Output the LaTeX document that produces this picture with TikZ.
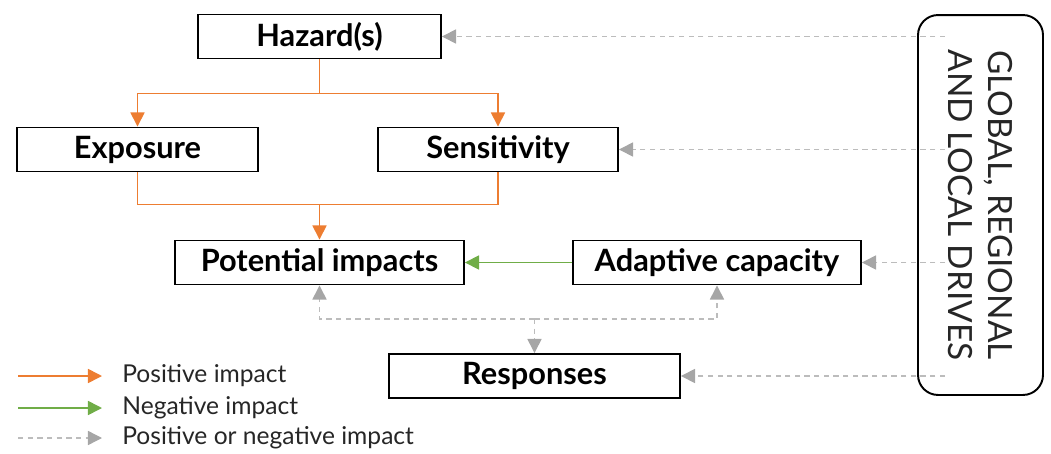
\documentclass[tikz,border=0pt]{standalone}
\usepackage{fontspec}
\setmainfont{Lato}
\usepackage{tikz}
\usetikzlibrary{arrows.meta,positioning,calc}

\definecolor{posorange}{RGB}{237,125,49}
\definecolor{neggreen}{RGB}{112,173,71}
\definecolor{mixgray}{RGB}{166,166,166}

\begin{document}
\begin{tikzpicture}[x=0.02cm,y=-0.02cm,
		box/.style={draw, line width=1.1pt, minimum height=0.88cm, inner sep=0pt,
			font=\fontsize{17.5}{20}\selectfont\bfseries},
		legend/.style={anchor=west, inner sep=0pt, text=black!85, font=\fontsize{14}{16}\selectfont},
		posline/.style={draw=posorange, line width=0.9pt},
		posarrow/.style={posline, -{Triangle[length=8pt,width=8pt]}},
		negarrow/.style={draw=neggreen, line width=0.9pt, -{Triangle[length=8pt,width=8pt]}},
		mixarrow/.style={draw=mixgray!75, line width=0.8pt, dash pattern=on 3pt off 2.5pt,
			-{Triangle[length=8pt,width=8pt,fill=mixgray,color=mixgray]}}]
	\useasboundingbox (0,0) rectangle (1051,453);

	\node[box, minimum width=4.86cm] (haz) at (319.5,36.5) {Hazard(s)};
	\node[box, minimum width=4.82cm] (expo) at (137.5,149.5) {Exposure};
	\node[box, minimum width=4.8cm] (sens) at (498,149.5) {Sensitivity};
	\node[box, minimum width=5.78cm] (pot) at (319.5,262.5) {Potential impacts};
	\node[box, minimum width=5.76cm] (adapt) at (717,262.5) {Adaptive capacity};
	\node[box, minimum width=5.82cm] (resp) at (534.5,376) {Responses};
	\node[draw, line width=1.1pt, rounded corners=0.4cm, rotate=-90,
		minimum width=7.6cm, minimum height=2.5cm, align=center, text=black!85,
		font=\fontsize{19}{23}\selectfont] (drives) at (980.5,205)
		{GLOBAL, REGIONAL\\AND LOCAL DRIVES};

	% positive impacts
	\draw[posarrow] (haz.south) -- ++(0,34) -| (expo.north);
	\draw[posarrow] (haz.south) -- ++(0,34) -| (sens.north);
	\coordinate (join) at ($(pot.north)+(0,-35)$);
	\draw[posline] (expo.south) |- (join);
	\draw[posline] (sens.south) |- (join);
	\draw[posarrow] (join) -- (pot.north);

	% negative impact
	\draw[negarrow] (adapt.west) -- (pot.east);

	% positive or negative
	\coordinate (split) at ($(resp.north)+(0,-34)$);
	\draw[mixarrow] (split) -| (pot.south);
	\draw[mixarrow] (split) -| (adapt.south);
	\draw[mixarrow] (split) -- (resp.north);
	\foreach \n in {haz,sens,adapt,resp}
		\draw[mixarrow] ([xshift=0.56cm]drives.south |- \n.east) -- (\n.east);

	% legend
	\node[legend] (lpos) at (122,376) {Positive impact};
	\node[legend] (lneg) at (122,408) {Negative impact};
	\node[legend] (lmix) at (122,438) {Positive or negative impact};
	\draw[posarrow] ([xshift=-2.08cm]lpos.west) -- ([xshift=-0.4cm]lpos.west);
	\draw[negarrow] ([xshift=-2.08cm]lneg.west) -- ([xshift=-0.4cm]lneg.west);
	\draw[mixarrow] ([xshift=-2.08cm]lmix.west) -- ([xshift=-0.4cm]lmix.west);
\end{tikzpicture}
\end{document}
